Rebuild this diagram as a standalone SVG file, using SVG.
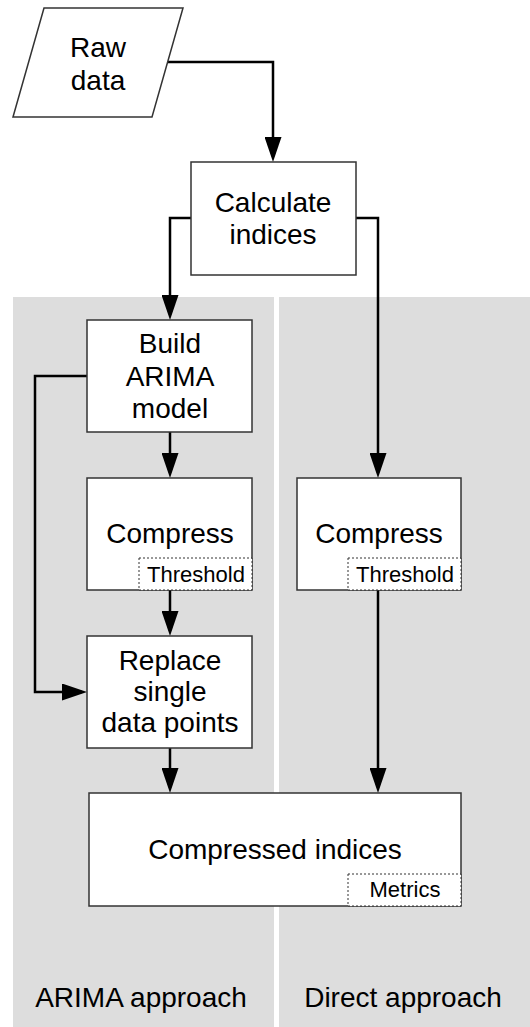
<svg xmlns="http://www.w3.org/2000/svg" width="530" height="1027" viewBox="0 0 530 1027">
  <style>
    .lane { fill: #dddddd; }
    .box { fill: #ffffff; stroke: #333333; stroke-width: 1.5; }
    .sub { fill: #ffffff; stroke: #333333; stroke-width: 1; stroke-dasharray: 2 2; }
    .t { font-family: "Liberation Sans", Arial, sans-serif; font-size: 28px; fill: #000000; text-anchor: middle; }
    .s { font-family: "Liberation Sans", Arial, sans-serif; font-size: 22px; fill: #000000; text-anchor: middle; }
    .edge { fill: none; stroke: #000000; stroke-width: 2.5; marker-end: url(#arrow); }
    .plain { fill: none; stroke: #000000; stroke-width: 2.5; }
  </style>
  <defs>
    <marker id="arrow" viewBox="0 0 25 17" refX="20" refY="8.5" markerWidth="25" markerHeight="17" markerUnits="userSpaceOnUse" orient="auto">
      <path d="M0,0 L25,8.5 L0,17 Z" fill="#000000"/>
    </marker>
  </defs>

  <!-- swimlanes -->
  <g id="lane-arima">
    <rect class="lane" x="13" y="297" width="261" height="730"/>
    <text class="t" x="141" y="1007">ARIMA approach</text>
  </g>
  <g id="lane-direct">
    <rect class="lane" x="279" y="297" width="251" height="730"/>
    <text class="t" x="403" y="1007">Direct approach</text>
  </g>

  <!-- connectors -->
  <g id="connectors">
    <path class="edge" d="M168,62 H273 V157"/>
    <path class="edge" d="M191,218 H170 V315"/>
    <path class="edge" d="M356,218 H378 V473"/>
    <path class="edge" d="M170,432 V473"/>
    <path class="edge" d="M170,590 V631"/>
    <path class="edge" d="M87,376 H35 V692 H82"/>
    <path class="edge" d="M170,748 V788"/>
    <path class="edge" d="M378,590 V788"/>
  </g>

  <g id="raw-data">
    <polygon class="box" points="44,8 183,8 152,117 13,117"/>
    <text class="t" x="98" y="57">Raw</text>
    <text class="t" x="98" y="90">data</text>
  </g>

  <g id="calculate-indices">
    <rect class="box" x="191" y="162" width="165" height="113"/>
    <text class="t" x="273" y="212">Calculate</text>
    <text class="t" x="273" y="244">indices</text>
  </g>

  <g id="build-arima">
    <rect class="box" x="87" y="320" width="165" height="112"/>
    <text class="t" x="170" y="353">Build</text>
    <text class="t" x="170" y="386">ARIMA</text>
    <text class="t" x="170" y="418">model</text>
  </g>

  <g id="compress-arima">
    <rect class="box" x="87" y="478" width="165" height="112"/>
    <text class="t" x="170" y="543">Compress</text>
    <rect class="sub" x="139" y="558" width="113" height="32"/>
    <text class="s" x="196" y="582">Threshold</text>
  </g>

  <g id="compress-direct">
    <rect class="box" x="297" y="478" width="164" height="112"/>
    <text class="t" x="379" y="543">Compress</text>
    <rect class="sub" x="348" y="558" width="113" height="32"/>
    <text class="s" x="405" y="582">Threshold</text>
  </g>

  <g id="replace-points">
    <rect class="box" x="87" y="636" width="165" height="112"/>
    <text class="t" x="170" y="670">Replace</text>
    <text class="t" x="170" y="701">single</text>
    <text class="t" x="170" y="732">data points</text>
  </g>

  <g id="compressed-indices">
    <rect class="box" x="89" y="793" width="372" height="113"/>
    <text class="t" x="275" y="859">Compressed indices</text>
    <rect class="sub" x="348" y="874" width="113" height="32"/>
    <text class="s" x="405" y="897">Metrics</text>
  </g>
</svg>
